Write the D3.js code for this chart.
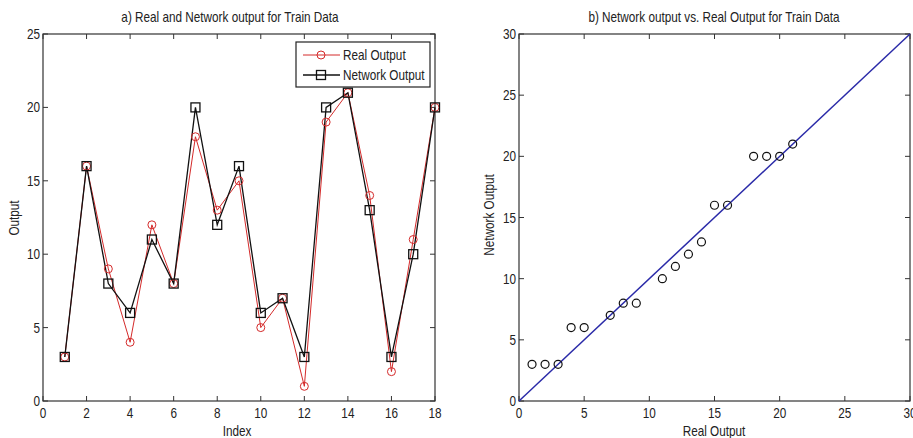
<!DOCTYPE html>
<html><head><meta charset="utf-8">
<script src="https://cdn.jsdelivr.net/npm/d3@7"></script>
<style>
body{margin:0;background:#fff;}
svg{display:block;}
text{font-family:"Liberation Sans",Arial,sans-serif;fill:#222;}
</style></head>
<body>
<svg id="c" width="913" height="438"></svg>
<script>
const indexValues = [1,2,3,4,5,6,7,8,9,10,11,12,13,14,15,16,17,18];
const realOutput = [3,16,9,4,12,8,18,13,15,5,7,1,19,21,14,2,11,20];
const networkOutput = [3,16,8,6,11,8,20,12,16,6,7,3,20,21,13,3,10,20];
const scatterReal = [1,2,3,4,5,7,8,9,11,12,13,14,15,16,18,19,20,21];
const scatterNetwork = [3,3,3,6,6,7,8,8,10,11,12,13,16,16,20,20,20,21];
const leftXTicks = [0,2,4,6,8,10,12,14,16,18];
const leftYTicks = [0,5,10,15,20,25];
const rightTicks = [0,5,10,15,20,25,30];

const svg = d3.select("#c");
const axisColor = "#333";
const fs = 14;
const sx = 0.84;

function label(g, x, y, txt, opts = {}) {
  const rot = opts.rotate ? ` rotate(${opts.rotate})` : "";
  return g.append("text")
    .attr("transform", `translate(${x},${y})${rot} scale(${sx},1)`)
    .attr("text-anchor", opts.anchor || "start")
    .attr("font-size", opts.size || fs)
    .text(txt);
}

function frame(g, x, y, xt, yt, tickLen) {
  const [x0, x1] = x.range(), [y0, y1] = y.range();
  g.append("rect").attr("x", x0).attr("y", y1).attr("width", x1 - x0).attr("height", y0 - y1)
    .attr("fill", "none").attr("stroke", axisColor).attr("stroke-width", 1.2);
  const tk = g.append("g").attr("stroke", axisColor).attr("stroke-width", 1);
  xt.forEach(t => {
    const px = x(t);
    tk.append("line").attr("x1", px).attr("x2", px).attr("y1", y0).attr("y2", y0 - tickLen);
    tk.append("line").attr("x1", px).attr("x2", px).attr("y1", y1).attr("y2", y1 + tickLen);
    label(g, px, y0 + 17, t, {anchor: "middle"});
  });
  yt.forEach(t => {
    const py = y(t);
    tk.append("line").attr("x1", x0).attr("x2", x0 + tickLen).attr("y1", py).attr("y2", py);
    tk.append("line").attr("x1", x1).attr("x2", x1 - tickLen).attr("y1", py).attr("y2", py);
    label(g, x0 - 3, py + 5, t, {anchor: "end"});
  });
}

// Left chart
const xL = d3.scaleLinear().domain([0, 18]).range([43, 435]);
const yL = d3.scaleLinear().domain([0, 25]).range([401, 34]);
const gL = svg.append("g");
frame(gL, xL, yL, leftXTicks, leftYTicks, 5);

const red = "#d42a2a";
const lineGen = arr => d3.line().x((d, i) => xL(indexValues[i])).y(d => yL(d))(arr);
gL.append("path").attr("d", lineGen(realOutput)).attr("fill", "none").attr("stroke", red).attr("stroke-width", 1);
gL.append("path").attr("d", lineGen(networkOutput)).attr("fill", "none").attr("stroke", "#111").attr("stroke-width", 1.3);
gL.selectAll(".rc").data(realOutput).enter().append("circle")
  .attr("cx", (d, i) => xL(indexValues[i])).attr("cy", d => yL(d)).attr("r", 4)
  .attr("fill", "none").attr("stroke", red).attr("stroke-width", 1);
gL.selectAll(".ns").data(networkOutput).enter().append("rect")
  .attr("x", (d, i) => xL(indexValues[i]) - 4.5).attr("y", d => yL(d) - 4.5)
  .attr("width", 9).attr("height", 9)
  .attr("fill", "none").attr("stroke", "#111").attr("stroke-width", 1.3);

label(gL, 230, 22, "a) Real and Network output for Train Data", {anchor: "middle"});
label(gL, 237, 436, "Index", {anchor: "middle"});
label(gL, 19, 218, "Output", {anchor: "middle", rotate: -90});

// Legend
const lg = gL.append("g");
lg.append("rect").attr("x", 296).attr("y", 42).attr("width", 134).attr("height", 45)
  .attr("fill", "#fff").attr("stroke", "#222").attr("stroke-width", 1.2);
lg.append("line").attr("x1", 303).attr("x2", 340).attr("y1", 55).attr("y2", 55).attr("stroke", red).attr("stroke-width", 1);
lg.append("circle").attr("cx", 321).attr("cy", 55).attr("r", 4).attr("fill", "none").attr("stroke", red);
lg.append("line").attr("x1", 303).attr("x2", 340).attr("y1", 75).attr("y2", 75).attr("stroke", "#111").attr("stroke-width", 1.3);
lg.append("rect").attr("x", 316.5).attr("y", 70.5).attr("width", 9).attr("height", 9).attr("fill", "none").attr("stroke", "#111").attr("stroke-width", 1.3);
label(lg, 343, 60, "Real Output");
label(lg, 343, 80, "Network Output");

// Right chart
const xR = d3.scaleLinear().domain([0, 30]).range([519, 910]);
const yR = d3.scaleLinear().domain([0, 30]).range([401, 34]);
const gR = svg.append("g");
frame(gR, xR, yR, rightTicks, rightTicks, 5);
gR.append("line").attr("x1", xR(0)).attr("y1", yR(0)).attr("x2", xR(30)).attr("y2", yR(30))
  .attr("stroke", "#2a2aa8").attr("stroke-width", 1.5);
gR.selectAll(".sc").data(scatterReal).enter().append("circle")
  .attr("cx", d => xR(d)).attr("cy", (d, i) => yR(scatterNetwork[i])).attr("r", 4)
  .attr("fill", "none").attr("stroke", "#111").attr("stroke-width", 1.2);
label(gR, 714, 22, "b) Network output vs. Real Output for Train Data", {anchor: "middle"});
label(gR, 714, 436, "Real Output", {anchor: "middle"});
label(gR, 494, 215, "Network Output", {anchor: "middle", rotate: -90});
</script>
</body></html>
